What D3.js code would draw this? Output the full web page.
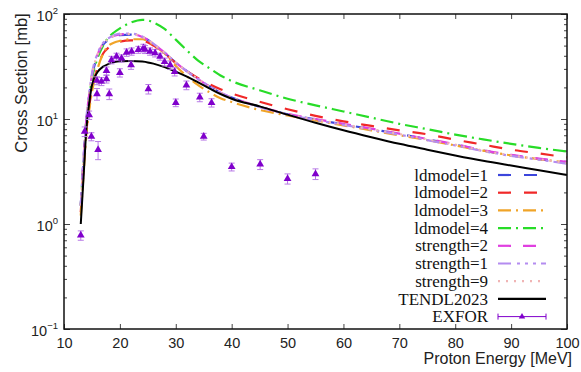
<!DOCTYPE html>
<html>
<head>
<meta charset="utf-8">
<script src="https://cdn.jsdelivr.net/npm/d3@7"></script>
<style>
  body { margin: 0; background: #fff; }
  svg { display: block; }
</style>
</head>
<body>
<script>
const width = 581
const height = 372
const margin = ({top: 14, right: 14, bottom: 43, left: 64})

// calculated cross sections, all on the same energy grid
const energies = [13, 13.5, 14, 14.5, 15, 16, 17, 18, 19, 20, 22, 24, 25, 26, 28, 30, 32, 34, 36, 38, 40, 45, 50, 55, 60, 65, 70, 75, 80, 85, 90, 95, 100]
const ldmodel1 = [1.5, 4.1, 9.8, 16.5, 25, 40, 51, 57, 61, 63, 63.5, 60, 56.5, 51.5, 42.5, 34.5, 28.5, 24, 20.5, 17.8, 16, 13.1, 11.1, 9.9, 8.9, 8.0, 7.2, 6.4, 5.7, 5.0, 4.5, 4.15, 3.85]
const ldmodel2 = [1.3, 3.3, 7.5, 13, 19, 31, 42, 48, 52, 54.5, 56, 55.5, 53.5, 50, 42, 34, 28.5, 24.5, 21.5, 19.2, 17.5, 14.6, 12.4, 10.7, 9.5, 8.6, 7.8, 7.15, 6.35, 5.7, 5.1, 4.7, 4.3]
const ldmodel3 = [1.2, 3.0, 7, 12, 18, 30, 42, 50, 53.5, 55.5, 57.5, 57.5, 55, 50.5, 42, 32, 25.5, 21, 18, 15.8, 14.5, 12.2, 10.8, 9.7, 8.7, 7.8, 7.0, 6.3, 5.6, 5.0, 4.5, 4.15, 3.85]
const ldmodel4 = [1.5, 4, 9.5, 16, 24, 38, 50, 60, 67, 73, 83, 88, 87, 83, 72, 57, 45, 36, 30.5, 26, 23, 18.8, 15.6, 13.5, 11.8, 10.3, 9.0, 8.0, 7.1, 6.4, 5.8, 5.3, 4.9]
const strength2 = [1.5, 4.2, 10, 17, 26, 41, 52, 58, 62, 64, 64.5, 60.5, 57, 52, 43, 34.5, 28.5, 24, 20.5, 17.8, 16, 13.1, 11.2, 10.0, 9.0, 8.1, 7.25, 6.45, 5.75, 5.05, 4.55, 4.2, 3.9]
const strength1 = [1.5, 4.3, 10.2, 17.5, 27, 42, 53, 59, 63, 65, 65, 61, 57, 52, 43, 34.5, 28.5, 24, 20.5, 17.8, 16, 13.0, 11.0, 9.8, 8.8, 7.9, 7.1, 6.3, 5.6, 4.95, 4.45, 4.1, 3.75]
const strength9 = [1.5, 4.2, 10, 17, 26, 41, 52, 58, 62, 64, 64.5, 60.5, 57, 52, 43, 34.5, 28.5, 24, 20.5, 17.8, 16, 13.1, 11.1, 9.9, 8.9, 8.0, 7.2, 6.4, 5.7, 5.0, 4.5, 4.15, 3.8]
const tendl2023 = [1.0, 2.8, 8.0, 14, 21, 28, 31.5, 33.5, 34.8, 35.4, 35.7, 35.2, 34.6, 33.7, 31.2, 28.3, 25.3, 22.3, 19.6, 17.3, 15.6, 13.2, 11.0, 9.2, 7.8, 6.7, 5.8, 5.1, 4.5, 4.0, 3.6, 3.25, 2.93]

// measured points
const exforE = [13.0, 13.7, 14.5, 14.9, 15.9, 15.9, 16.1, 16.7, 17.6, 17.6, 18.1, 18.5, 19.4, 20.0, 20.3, 21.2, 22.0, 22.1, 23.3, 24.2, 24.5, 25.1, 25.4, 26.3, 27.2, 28.0, 29.0, 29.8, 30.0, 31.9, 34.3, 35.0, 36.4, 40.0, 45.1, 50.0, 55.0]
const exforV = [0.78, 7.6, 10.9, 6.8, 23.2, 17.3, 5.1, 22.8, 24.0, 28.8, 17.3, 36.5, 39.3, 27.6, 37.8, 43, 32.7, 44, 45.7, 47.5, 46, 19.3, 44, 42.5, 39.3, 35, 32.7, 28.2, 14.3, 21, 16.1, 6.8, 14.3, 3.5, 3.7, 2.7, 3.0]
const exforErr = [0.08, 0.8, 1.0, 0.6, 2.0, 2.2, 1.0, 2.0, 2.0, 2.5, 2.0, 3, 3, 2.5, 3, 3.5, 3, 3.5, 3.5, 4, 4, 2, 3.5, 3.5, 3, 3, 3, 2.5, 1.2, 2, 1.5, 0.5, 1.3, 0.3, 0.4, 0.3, 0.35]

const xTicks = [10, 20, 30, 40, 50, 60, 70, 80, 90, 100]
const yTicks = [0.1, 1, 10, 100]
const yExps = ["\u22121", "0", "1", "2"]

const series = [
    {name: "ldmodel=1", values: ldmodel1, color: "#3c46dc", dash: "13,13"},
    {name: "ldmodel=2", values: ldmodel2, color: "#f02828", dash: "13,13"},
    {name: "ldmodel=3", values: ldmodel3, color: "#f0a428", dash: "13,5,2,5"},
    {name: "ldmodel=4", values: ldmodel4, color: "#28dc28", dash: "13,5,2,5"},
    {name: "strength=2", values: strength2, color: "#e040e0", dash: "13,12"},
    {name: "strength=1", values: strength1, color: "#b48cf0", dash: "13,6,3,5,3,5,3,5"},
    {name: "strength=9", values: strength9, color: "#f0b4b4", dash: "2,6"},
    {name: "TENDL2023", values: tendl2023, color: "#000000", dash: null}
]
const exforColor = "#8000cc"
const errColor = "#b87ae6"

const x = d3.scaleLinear()
    .domain([10, 100])
    .range([margin.left, width - margin.right])

const y = d3.scaleLog()
    .domain([0.1, 100])
    .range([height - margin.bottom, margin.top])

const svg = d3.select("body").append("svg")
    .attr("width", width)
    .attr("height", height)
    .attr("viewBox", [0, 0, width, height])

const minorY = []
yTicks.slice(0, -1).forEach(t => { for (let k = 2; k <= 9; k++) minorY.push(t * k) })

// axes (ticks point inwards)
svg.append("g")
    .attr("transform", `translate(0,${height - margin.bottom})`)
    .call(d3.axisBottom(x).tickValues(xTicks).tickSize(-5).tickPadding(9))
    .call(g => g.select(".domain").remove())
    .call(g => g.selectAll("text").attr("font-family", "Liberation Sans, Arial, sans-serif").attr("font-size", 14.5).attr("fill", "#222"))

svg.append("g")
    .attr("transform", `translate(0,${margin.top})`)
    .call(d3.axisTop(x).tickValues(xTicks).tickSize(-5).tickFormat(""))
    .call(g => g.select(".domain").remove())

svg.append("g")
    .attr("transform", `translate(${margin.left},0)`)
    .call(d3.axisLeft(y).tickValues(yTicks).tickSize(-6).tickPadding(6).tickFormat(""))
    .call(g => g.select(".domain").remove())
    .call(g => g.selectAll(".tick text").each(function(d, i) {
        const t = d3.select(this)
            .attr("font-family", "Liberation Sans, Arial, sans-serif")
            .attr("font-size", 14.5)
            .attr("fill", "#222")
            .attr("dy", "0.45em")
        t.append("tspan").text("10")
        t.append("tspan").attr("font-size", 9.5).attr("dy", "-0.75em").text(yExps[i])
    }))

svg.append("g")
    .attr("transform", `translate(${margin.left},0)`)
    .call(d3.axisLeft(y).tickValues(minorY).tickSize(-3).tickFormat(""))
    .call(g => g.select(".domain").remove())

svg.append("g")
    .attr("transform", `translate(${width - margin.right},0)`)
    .call(d3.axisRight(y).tickValues(yTicks).tickSize(-6).tickFormat(""))
    .call(g => g.select(".domain").remove())

svg.append("g")
    .attr("transform", `translate(${width - margin.right},0)`)
    .call(d3.axisRight(y).tickValues(minorY).tickSize(-3).tickFormat(""))
    .call(g => g.select(".domain").remove())

svg.selectAll(".tick line").attr("stroke", "#444")

// curves
const line = d3.line()
    .x((d, i) => x(energies[i]))
    .y(d => y(d))
    .curve(d3.curveMonotoneX)

svg.append("g")
    .attr("fill", "none")
    .selectAll("path")
    .data(series)
    .join("path")
        .attr("d", d => line(d.values))
        .attr("stroke", d => d.color)
        .attr("stroke-width", d => d.dash ? 2.2 : 2)
        .attr("stroke-dasharray", d => d.dash)

// EXFOR with error bars
const exfor = exforE.map((e, i) => ({e, v: exforV[i], err: exforErr[i]}))
const pts = svg.append("g")
    .selectAll("g")
    .data(exfor)
    .join("g")
        .attr("transform", d => `translate(${x(d.e)},0)`)

pts.append("line")
    .attr("y1", d => y(d.v - d.err))
    .attr("y2", d => y(d.v + d.err))
    .attr("stroke", errColor)
pts.append("line")
    .attr("x1", -3).attr("x2", 3)
    .attr("y1", d => y(d.v - d.err)).attr("y2", d => y(d.v - d.err))
    .attr("stroke", errColor)
pts.append("line")
    .attr("x1", -3).attr("x2", 3)
    .attr("y1", d => y(d.v + d.err)).attr("y2", d => y(d.v + d.err))
    .attr("stroke", errColor)

const tri = d3.symbol().type(d3.symbolTriangle).size(26)
pts.append("path")
    .attr("d", tri)
    .attr("transform", d => `translate(0,${y(d.v)})`)
    .attr("fill", exforColor)

// frame
svg.append("rect")
    .attr("x", margin.left)
    .attr("y", margin.top)
    .attr("width", width - margin.left - margin.right)
    .attr("height", height - margin.top - margin.bottom)
    .attr("fill", "none")
    .attr("stroke", "#111")
    .attr("stroke-width", 1.5)

// legend
const legendRows = series.map(d => d.name).concat(["EXFOR"])
const legend = svg.append("g")
    .attr("font-family", "Liberation Serif, Times New Roman, serif")
    .attr("font-size", 17)
    .selectAll("g")
    .data(legendRows)
    .join("g")
        .attr("transform", (d, i) => `translate(0,${175 + i * 17.7})`)

legend.append("text")
    .attr("x", 488)
    .attr("dy", "0.33em")
    .attr("text-anchor", "end")
    .attr("fill", "#111")
    .text(d => d)

legend.filter((d, i) => i < series.length)
    .append("line")
    .attr("x1", 498).attr("x2", 546)
    .attr("stroke", (d, i) => series[i].color)
    .attr("stroke-width", 2.2)
    .attr("stroke-dasharray", (d, i) => series[i].dash)

const exLeg = legend.filter(d => d === "EXFOR")
exLeg.append("line").attr("x1", 498).attr("x2", 546).attr("stroke", exforColor)
exLeg.append("line").attr("x1", 498).attr("x2", 498).attr("y1", -3).attr("y2", 3).attr("stroke", exforColor)
exLeg.append("line").attr("x1", 546).attr("x2", 546).attr("y1", -3).attr("y2", 3).attr("stroke", exforColor)
exLeg.append("path").attr("d", d3.symbol().type(d3.symbolTriangle).size(18)).attr("transform", "translate(522,0)").attr("fill", exforColor)

// axis titles
svg.append("text")
    .attr("x", width - 9)
    .attr("y", 364)
    .attr("text-anchor", "end")
    .attr("font-family", "Liberation Sans, Arial, sans-serif")
    .attr("font-size", 16)
    .attr("fill", "#222")
    .text("Proton Energy [MeV]")

svg.append("text")
    .attr("transform", `translate(27,${(margin.top + 152) / 2 + 0}) rotate(-90)`)
    .attr("text-anchor", "middle")
    .attr("font-family", "Liberation Sans, Arial, sans-serif")
    .attr("font-size", 16.5)
    .attr("fill", "#222")
    .text("Cross Section [mb]")
</script>
</body>
</html>
